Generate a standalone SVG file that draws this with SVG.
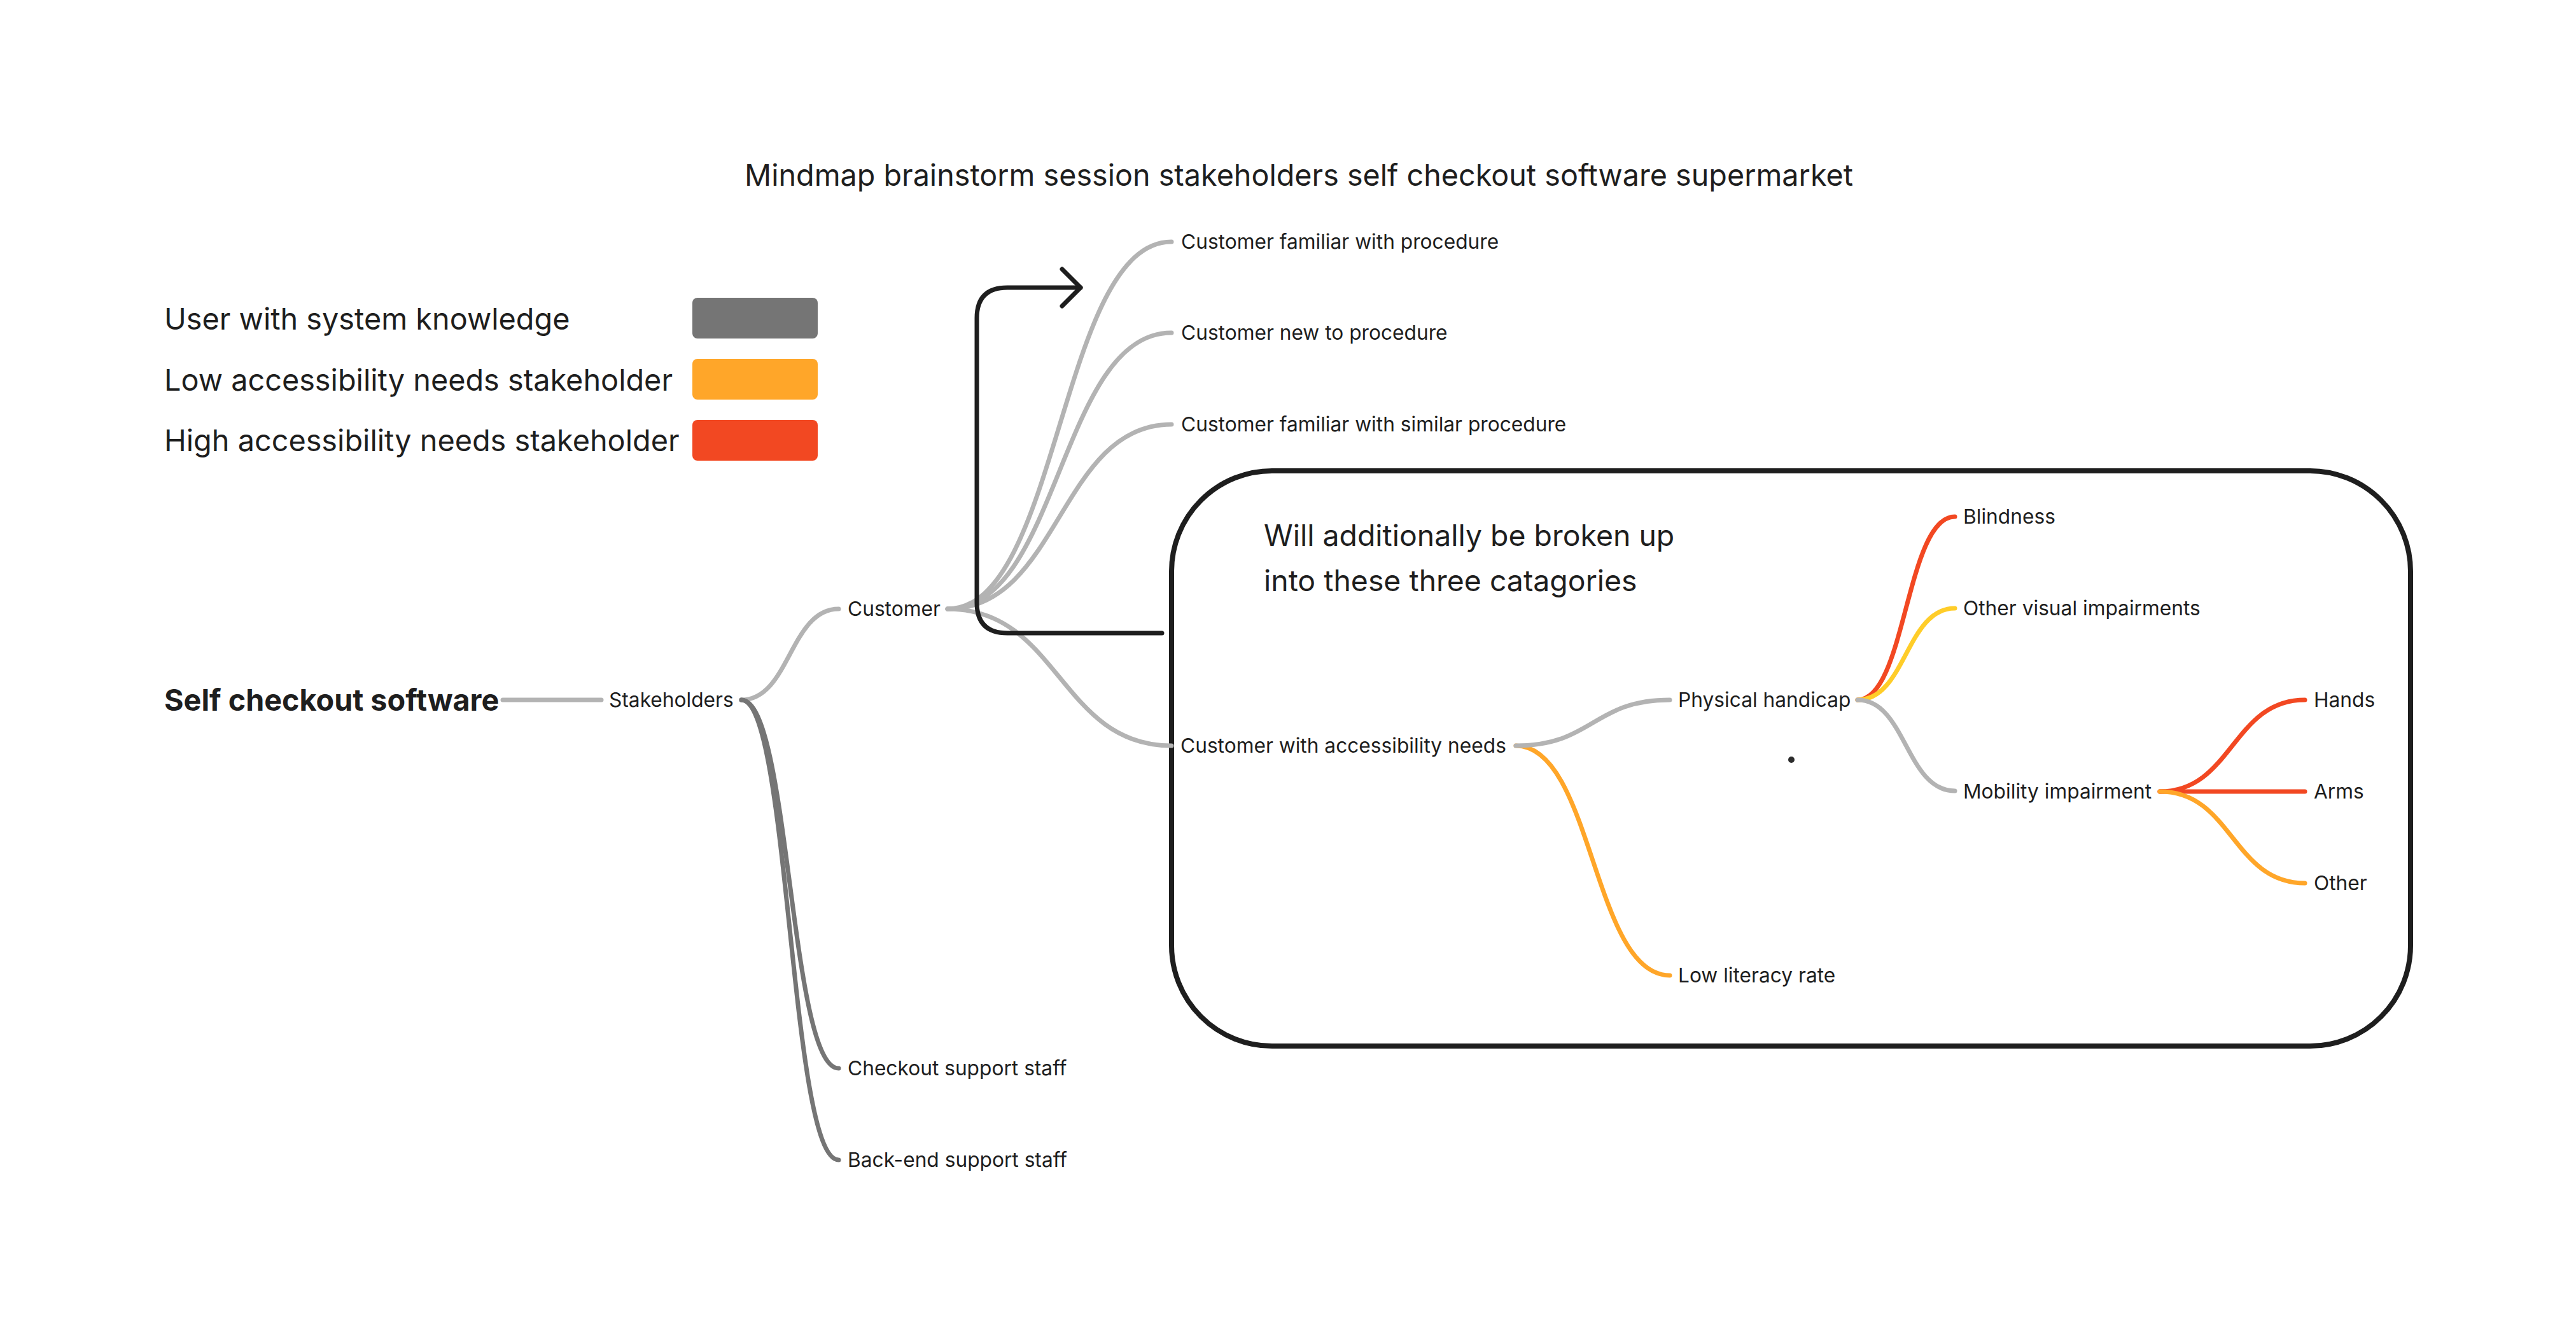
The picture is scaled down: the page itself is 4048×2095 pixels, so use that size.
<svg xmlns="http://www.w3.org/2000/svg" width="4048" height="2095" viewBox="0 0 4048 2095">
<defs>
<style>
.t{font-family:Inter,"Noto Sans","Liberation Sans",sans-serif;fill:#1e1e1e}
.lbl{font-size:31.7px}
.big{font-size:46.8px}
.box{font-size:46.4px}
.bold{font-weight:700}
.c{fill:none;stroke-width:7;stroke-linecap:round}
.lg{stroke:#b3b3b3}
.dg{stroke:#757575}
.rd{stroke:#f24822}
.or{stroke:#ffa629}
.ye{stroke:#ffcd29}
.ink{fill:none;stroke:#1e1e1e;stroke-linecap:round;stroke-linejoin:round}
</style>
<marker id="chev" markerUnits="userSpaceOnUse" viewBox="-40 -40 50 80" refX="0" refY="0" markerWidth="50" markerHeight="80" orient="auto" overflow="visible">
<path d="M-29,-29 L0,0 L-29,29" fill="none" stroke="#1e1e1e" stroke-width="7" stroke-linecap="round" stroke-linejoin="round"/>
</marker>
</defs>
<rect x="0" y="0" width="4048" height="2095" fill="#ffffff"/>

<g id="title"><text class="t" x="1170" y="292" font-size="46.7">Mindmap brainstorm session stakeholders self checkout software supermarket</text></g>

<g id="legend">
<text class="t big" x="258" y="518">User with system knowledge</text>
<rect x="1088" y="468" width="197" height="64" rx="8" fill="#757575"/>
<text class="t big" x="258" y="614">Low accessibility needs stakeholder</text>
<rect x="1088" y="564" width="197" height="64" rx="8" fill="#ffa629"/>
<text class="t big" x="258" y="709">High accessibility needs stakeholder</text>
<rect x="1088" y="660" width="197" height="64" rx="8" fill="#f24822"/>
</g>

<g id="group-box">
<rect x="1841" y="740" width="1947" height="904" rx="158" class="ink" stroke-width="8"/>
<text class="t box" x="1986" y="858">Will additionally be broken up</text>
<text class="t box" x="1986" y="929">into these three catagories</text>
</g>

<g id="connectors">
<path class="c lg" d="M790,1100 H945"/>
<path class="c lg" d="M1165,1100 C1241,1100 1241,957 1318,957"/>
<path class="c dg" d="M1165,1100 C1241,1100 1241,1679 1318,1679"/>
<path class="c dg" d="M1165,1100 C1241,1100 1241,1823 1318,1823"/>
<path class="c lg" d="M1489,957 C1665,957 1665,380 1841,380"/>
<path class="c lg" d="M1489,957 C1665,957 1665,523 1841,523"/>
<path class="c lg" d="M1489,957 C1665,957 1665,667 1841,667"/>
<path class="c lg" d="M1489,957 C1665,957 1665,1172 1841,1172"/>
<path class="c or" d="M2382,1172 C2503,1172 2503,1533 2624,1533"/>
<path class="c lg" d="M2382,1172 C2503,1172 2503,1100 2624,1100"/>
<path class="c rd" d="M2919,1100 C2995,1100 2995,812 3072,812"/>
<path class="c ye" d="M2919,1100 C2995,1100 2995,956 3072,956"/>
<path class="c lg" d="M2919,1100 C2995,1100 2995,1243 3072,1243"/>
<path class="c rd" d="M3394,1244 C3508,1244 3508,1100 3622,1100"/>
<path class="c rd" d="M3394,1244 H3622"/>
<path class="c or" d="M3394,1244 C3508,1244 3508,1388 3622,1388"/>
<path class="ink" stroke-width="7" d="M1826,995 H1583 Q1535,995 1535,947 V500 Q1535,452 1583,452 H1698" marker-end="url(#chev)"/>
</g>

<g id="node-root"><text class="t bold" x="258" y="1117" font-size="46.7">Self checkout software</text></g>
<g id="node-stakeholders"><text class="t lbl" x="957" y="1111">Stakeholders</text></g>
<g id="node-customer"><text class="t lbl" x="1332" y="968">Customer</text></g>
<g id="node-checkout"><text class="t lbl" x="1332" y="1690">Checkout support staff</text></g>
<g id="node-backend"><text class="t lbl" x="1332" y="1834">Back-end support staff</text></g>
<g id="node-familiar"><text class="t lbl" x="1856" y="391">Customer familiar with procedure</text></g>
<g id="node-new"><text class="t lbl" x="1856" y="534">Customer new to procedure</text></g>
<g id="node-similar"><text class="t lbl" x="1856" y="678">Customer familiar with similar procedure</text></g>
<g id="node-accessibility"><text class="t lbl" x="1855" y="1183">Customer with accessibility needs</text></g>
<g id="node-physical"><text class="t lbl" x="2637" y="1111">Physical handicap</text></g>
<g id="node-literacy"><text class="t lbl" x="2637" y="1544">Low literacy rate</text></g>
<g id="node-blindness"><text class="t lbl" x="3085" y="823">Blindness</text></g>
<g id="node-visual"><text class="t lbl" x="3085" y="967">Other visual impairments</text></g>
<g id="node-mobility"><text class="t lbl" x="3085" y="1255">Mobility impairment</text></g>
<g id="node-hands"><text class="t lbl" x="3636" y="1111">Hands</text></g>
<g id="node-arms"><text class="t lbl" x="3636" y="1255">Arms</text></g>
<g id="node-other"><text class="t lbl" x="3636" y="1399">Other</text></g>

<circle cx="2815" cy="1194" r="5" fill="#2c2c2c"/>
</svg>
